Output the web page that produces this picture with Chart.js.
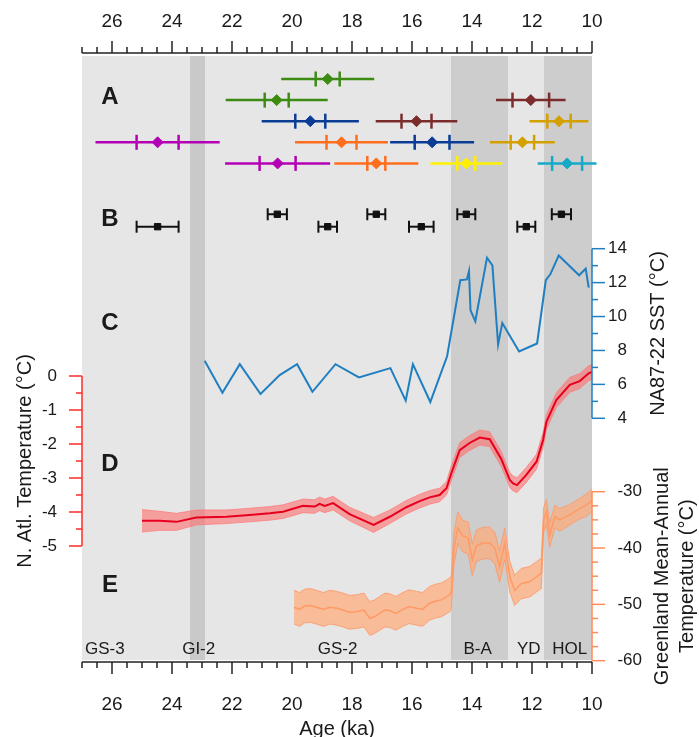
<!DOCTYPE html>
<html lang="en">
<head>
<meta charset="UTF-8">
<title>Deglacial temperature records</title>
<script src="https://cdn.jsdelivr.net/npm/chart.js@4/dist/chart.umd.min.js"></script>
<style>
  html, body { margin: 0; padding: 0; background: #fff; }
  #wrap { width: 699px; height: 737px; }
</style>
</head>
<body>
<div id="wrap"><canvas id="chart" width="699" height="737"></canvas></div>
<script>
// ---- values (age in ka) ----
const ageLabels = [26, 24, 22, 20, 18, 16, 14, 12, 10];

// climate intervals shaded behind the panels
const zoneNames    = ['GS-3', 'GI-2', 'GS-2', 'B-A', 'YD', 'HOL'];
const zoneStart    = [27, 23.4, 22.9, 14.7, 12.8, 11.6];
const zoneEnd      = [23.4, 22.9, 14.7, 12.8, 11.6, 10];
const zoneDark     = [false, true, false, true, false, true];
const zoneLabelAge = [26.24, 23.11, 18.48, 13.81, 12.11, 10.74];

// A: calibrated ages, centre with inner and outer ranges
const aRow    = [1, 2, 2, 3, 3, 3, 4, 4, 4, 4, 5, 5, 5, 5];
const aAge    = [18.81, 20.51, 12.04, 19.39, 15.85, 11.1, 24.48, 18.35, 15.33, 12.32, 20.48, 17.19, 14.19, 10.83];
const aInner  = [0.4, 0.4, 0.61, 0.5, 0.5, 0.39, 0.7, 0.5, 0.58, 0.39, 0.6, 0.3, 0.3, 0.5];
const aOuter  = [1.55, 1.7, 1.16, 1.62, 1.36, 0.98, 2.07, 1.55, 1.4, 1.08, 1.75, 1.4, 1.2, 0.98];
const aColor  = ['#3c8c14', '#3c8c14', '#7b2c2c', '#0a3c96', '#7b2c2c', '#d4a000', '#b400b4',
                 '#ff6e1e', '#0a3c96', '#d4a000', '#b400b4', '#ff6e1e', '#fff000', '#14aac8'];

// B: ages with error
const bRow = [7.41, 7.41, 7.41, 7.41, 8, 8, 8, 8];
const bAge = [20.49, 17.19, 14.19, 11.02, 24.48, 18.81, 15.69, 12.19];
const bErr = [0.32, 0.3, 0.3, 0.32, 0.7, 0.31, 0.41, 0.3];

// C: NA87-22 SST (degC)
const cAge = [22.91, 22.32, 21.74, 21.05, 20.41, 19.83, 19.32, 18.55, 17.77, 16.72, 16.21, 15.97, 15.39,
              14.83, 14.39, 14.17, 14.1, 14.05, 13.89, 13.5, 13.32, 13.13, 12.99, 12.43, 11.83, 11.54,
              11.39, 11.11, 10.43, 10.21, 10.11];
const cSST = [7.39, 5.51, 7.19, 5.43, 6.55, 7.19, 5.56, 7.19, 6.41, 6.96, 5.04, 7.19, 4.96,
              7.66, 12.14, 12.19, 12.68, 10.37, 9.72, 13.47, 13.02, 8.35, 9.62, 7.94, 8.41, 12.14,
              12.49, 13.6, 12.43, 12.82, 11.71];
const cTicks = [4, 6, 8, 10, 12, 14];

// D: N. Atlantic temperature anomaly with its band half-width
const dAge = [25.0, 24.41, 23.85, 23.19, 22.19, 21.41, 20.74, 20.3, 19.63, 19.24, 19.08, 18.91, 18.63,
              18.08, 17.28, 16.74, 16.19, 15.74, 15.41, 15.08, 14.85, 14.69, 14.41, 14.08, 13.74, 13.41,
              13.02, 12.74, 12.63, 12.5, 12.19, 11.85, 11.63, 11.52, 11.19, 10.74, 10.41, 10.11, 10.0];
const dTemp = [-4.26, -4.26, -4.29, -4.16, -4.14, -4.09, -4.04, -3.99, -3.82, -3.84, -3.76, -3.82, -3.74,
               -4.06, -4.38, -4.14, -3.86, -3.68, -3.57, -3.5, -3.3, -2.86, -2.18, -1.97, -1.81, -1.86,
               -2.45, -3.06, -3.16, -3.21, -2.91, -2.52, -1.88, -1.35, -0.71, -0.26, -0.15, 0.08, 0.12];
const dSpread = [0.33, 0.28, 0.25, 0.22, 0.2, 0.2, 0.2, 0.2, 0.2, 0.2, 0.2, 0.2, 0.2,
                 0.2, 0.22, 0.2, 0.2, 0.2, 0.2, 0.2, 0.2, 0.22, 0.22, 0.22, 0.22, 0.22,
                 0.22, 0.22, 0.22, 0.22, 0.22, 0.22, 0.22, 0.22, 0.22, 0.22, 0.22, 0.22, 0.22];
const dTicks = [0, -1, -2, -3, -4, -5];

// E: Greenland mean-annual temperature with its band half-width
const eAge = [19.93, 19.75, 19.58, 19.38, 19.19, 18.95, 18.74, 18.5, 18.3, 18.1, 17.85, 17.6, 17.41,
              17.25, 17.08, 16.9, 16.74, 16.55, 16.3, 16.1, 15.85, 15.65, 15.41, 15.2, 15.02, 14.74,
              14.69, 14.6, 14.47, 14.3, 14.13, 13.99, 13.85, 13.63, 13.41, 13.24, 13.08, 12.91, 12.74,
              12.58, 12.35, 12.08, 11.85, 11.69, 11.61, 11.52, 11.41, 11.24, 11.08, 10.74, 10.41, 10.19, 10.0];
const eTemp = [-50.5, -50.9, -50.3, -50.2, -50.5, -50.9, -50.5, -50.7, -51.0, -51.4, -51.3, -51.0, -52.5,
               -52.2, -51.6, -51.0, -51.1, -51.6, -50.9, -50.4, -50.7, -50.9, -49.8, -49.4, -49.2, -48.3,
               -47.8, -40.0, -36.4, -37.9, -38.2, -42.1, -39.6, -39.1, -39.1, -40.0, -43.3, -39.2, -45.1,
               -47.5, -46.3, -46.0, -45.1, -44.5, -35.0, -33.6, -37.7, -34.4, -35.0, -34.1, -33.0, -32.4, -31.5];
const eSpread = [3, 3, 3, 3, 3, 3, 3, 3, 3, 3, 3, 3, 3,
                 3, 3, 3, 3, 3, 3, 3, 3, 3, 3, 3, 3, 3,
                 2.9, 2.9, 2.8, 2.8, 2.8, 2.8, 2.8, 2.8, 2.8, 2.8, 2.8, 2.8, 2.7,
                 2.7, 2.7, 2.7, 2.7, 2.7, 2.2, 2.2, 2.2, 2.0, 2.0, 1.8, 1.8, 2.0, 2.0];
const eTicks = [-30, -40, -50, -60];

// ---- layout ----
const FONT = '"Liberation Sans", Arial, Helvetica, sans-serif';
const TOP = 56, BOTTOM = 660;
const BLUE = '#1f7fc0', RED = '#e6001e', AXRED = '#ff2a2a', ORANGE = '#ff8c5a';

// scale bounds so that value v1 sits at pixel p1 and v2 at p2
function rangeFor(v1, p1, v2, p2) {
    const k = (v2 - v1) / (p2 - p1);
    const atTop = v1 + (TOP - p1) * k, atBottom = v1 + (BOTTOM - p1) * k;
    return { type: 'linear', display: false, bounds: 'data',
             min: Math.min(atTop, atBottom), max: Math.max(atTop, atBottom), reverse: atTop < atBottom };
}

const pts = (xs, ys) => xs.map((x, i) => ({ x: x, y: ys[i] }));

const datasets = [];

// panel A
aAge.forEach((c, i) => {
    datasets.push({
        data: [c + aOuter[i], c + aInner[i], c, c - aInner[i], c - aOuter[i]].map(x => ({ x: x, y: aRow[i] })),
        yAxisID: 'yRow', borderColor: aColor[i], backgroundColor: aColor[i], borderWidth: 2.5,
        pointStyle: ['circle', 'line', 'rectRot', 'line', 'circle'],
        pointRadius: [0, 7.5, 5.5, 7.5, 0],
        pointRotation: [0, 90, 0, 90, 0],
        pointBorderWidth: [0, 2.5, 1, 2.5, 0],
        pointBorderColor: aColor[i], pointBackgroundColor: aColor[i],
        clip: false
    });
});

// panel B
bAge.forEach((c, i) => {
    datasets.push({
        data: [c + bErr[i], c, c - bErr[i]].map(x => ({ x: x, y: bRow[i] })),
        yAxisID: 'yRow', borderColor: '#111', backgroundColor: '#111', borderWidth: 2,
        pointStyle: ['line', 'rect', 'line'],
        pointRadius: [6, 4.5, 6],
        pointRotation: [90, 0, 90],
        pointBorderWidth: [2, 1, 2],
        pointBorderColor: '#111', pointBackgroundColor: '#111'
    });
});

// panel C
datasets.push({ data: pts(cAge, cSST), yAxisID: 'yC', borderColor: BLUE, borderWidth: 2, pointRadius: 0 });

// panel D: line first so it is painted over its band
datasets.push({ data: pts(dAge, dTemp), yAxisID: 'yD', borderColor: RED, borderWidth: 2, pointRadius: 0 });
datasets.push({ data: pts(dAge, dTemp.map((v, i) => v + dSpread[i])), yAxisID: 'yD',
                borderColor: 'rgba(255,120,120,0.7)', borderWidth: 1, pointRadius: 0 });
datasets.push({ data: pts(dAge, dTemp.map((v, i) => v - dSpread[i])), yAxisID: 'yD',
                borderColor: 'rgba(255,120,120,0.7)', borderWidth: 1, pointRadius: 0,
                fill: '-1', backgroundColor: 'rgba(255,110,110,0.6)' });

// panel E
datasets.push({ data: pts(eAge, eTemp), yAxisID: 'yE', borderColor: '#ff9a64', borderWidth: 1.5, pointRadius: 0 });
datasets.push({ data: pts(eAge, eTemp.map((v, i) => v + eSpread[i])), yAxisID: 'yE',
                borderColor: 'rgba(255,150,100,0.8)', borderWidth: 1, pointRadius: 0 });
datasets.push({ data: pts(eAge, eTemp.map((v, i) => v - eSpread[i])), yAxisID: 'yE',
                borderColor: 'rgba(255,150,100,0.8)', borderWidth: 1, pointRadius: 0,
                fill: '-1', backgroundColor: 'rgba(255,170,120,0.7)' });

// shaded intervals behind everything
const zonesPlugin = {
    id: 'zones',
    beforeDatasetsDraw(chart) {
        const { ctx, chartArea: ca, scales: { x } } = chart;
        ctx.save();
        zoneStart.forEach((s, i) => {
            const x1 = x.getPixelForValue(s), x2 = x.getPixelForValue(zoneEnd[i]);
            ctx.fillStyle = zoneDark[i] ? (zoneNames[i] === 'GI-2' ? '#c9c9c9' : '#cdcdcd') : '#e6e6e6';
            ctx.fillRect(x1, ca.top, x2 - x1, ca.bottom - ca.top);
        });
        ctx.restore();
    },
    afterDatasetsDraw(chart) {
        const { ctx, chartArea: ca, scales: { x } } = chart;
        ctx.save();
        ctx.fillStyle = '#1a1a1a';
        ctx.textAlign = 'center';
        ctx.textBaseline = 'middle';
        ctx.font = '17px ' + FONT;
        zoneNames.forEach((n, i) => ctx.fillText(n, x.getPixelForValue(zoneLabelAge[i]), ca.bottom - 11));
        ctx.font = 'bold 24px ' + FONT;
        [['A', 97], ['B', 219], ['C', 323], ['D', 464], ['E', 585]].forEach(([t, y]) => {
            ctx.fillText(t, ca.left + 28, y);
        });
        ctx.restore();
    }
};

function vAxis(ctx, scale, x, ticks, minorStep, side, color, labelX) {
    const lo = Math.min(...ticks), hi = Math.max(...ticks);
    ctx.strokeStyle = color;
    ctx.lineWidth = 1.5;
    ctx.beginPath();
    ctx.moveTo(x, scale.getPixelForValue(lo));
    ctx.lineTo(x, scale.getPixelForValue(hi));
    ctx.stroke();
    const n = Math.round((hi - lo) / minorStep);
    for (let i = 0; i <= n; i++) {
        const v = lo + i * minorStep;
        const major = ticks.some(t => Math.abs(t - v) < 1e-6);
        const y = scale.getPixelForValue(v);
        ctx.beginPath();
        ctx.moveTo(x, y);
        ctx.lineTo(x + side * (major ? 13 : 6), y);
        ctx.stroke();
    }
    ticks.forEach(t => ctx.fillText(String(t), labelX, scale.getPixelForValue(t)));
}

function rotatedText(ctx, lines, x, y, lineGap) {
    ctx.save();
    ctx.translate(x, y);
    ctx.rotate(-Math.PI / 2);
    lines.forEach((l, i) => ctx.fillText(l, 0, (i - (lines.length - 1) / 2) * lineGap));
    ctx.restore();
}

const axesPlugin = {
    id: 'axesDraw',
    afterDraw(chart) {
        const { ctx, chartArea: ca, scales: s } = chart;
        ctx.save();
        // age axes, top and bottom
        ctx.strokeStyle = '#222';
        ctx.lineWidth = 1.5;
        [[ca.top - 3, -1], [ca.bottom + 2, 1]].forEach(([y, dir]) => {
            ctx.beginPath();
            ctx.moveTo(s.x.getPixelForValue(27), y);
            ctx.lineTo(s.x.getPixelForValue(10), y);
            ctx.stroke();
            for (let v = 10; v <= 27.001; v += 0.5) {
                const px = s.x.getPixelForValue(v);
                ctx.beginPath();
                ctx.moveTo(px, y);
                ctx.lineTo(px, y + dir * (v % 2 === 0 ? 12 : 6));
                ctx.stroke();
            }
        });

        ctx.fillStyle = '#1a1a1a';
        ctx.textBaseline = 'middle';
        ctx.font = '17px ' + FONT;
        ctx.textAlign = 'right';
        vAxis(ctx, s.yD, ca.left, dTicks, 0.5, -1, AXRED, ca.left - 25);
        vAxis(ctx, s.yC, ca.right, cTicks, 1, 1, BLUE, ca.right + 35);
        vAxis(ctx, s.yE, ca.right, eTicks, 2.5, 1, ORANGE, ca.right + 50);

        ctx.textAlign = 'center';
        ctx.font = '20px ' + FONT;
        const midD = (s.yD.getPixelForValue(0) + s.yD.getPixelForValue(-5)) / 2;
        const midC = (s.yC.getPixelForValue(4) + s.yC.getPixelForValue(14)) / 2;
        const midE = (s.yE.getPixelForValue(-30) + s.yE.getPixelForValue(-60)) / 2;
        rotatedText(ctx, ['N. Atl. Temperature (\u00b0C)'], 25, midD, 0);
        rotatedText(ctx, ['NA87-22 SST (\u00b0C)'], ca.right + 66, midC, 0);
        rotatedText(ctx, ['Greenland Mean-Annual', 'Temperature (\u00b0C)'], ca.right + 83, midE, 25);
        ctx.restore();
    }
};

const ageAxis = (position, extra) => Object.assign({
    type: 'linear', position: position, reverse: true, min: 10, max: 27, bounds: 'data',
    grid: { display: false, drawTicks: false },
    border: { display: false },
    afterBuildTicks: sc => { sc.ticks = ageLabels.map(v => ({ value: v })); },
    ticks: { autoSkip: false, maxRotation: 0, color: '#1a1a1a', font: { family: FONT, size: 19 },
             callback: v => String(v) }
}, extra);

const xBottom = ageAxis('bottom', {
    title: { display: true, text: 'Age (ka)', color: '#1a1a1a', font: { family: FONT, size: 20 },
             padding: { top: 0, bottom: -4 } },
    afterFit: sc => { sc.height = 77; }
});
xBottom.ticks.padding = 33;
const xTop = ageAxis('top', { afterFit: sc => { sc.height = TOP; } });
xTop.ticks.padding = 23;

new Chart(document.getElementById('chart'), {
    type: 'line',
    data: { datasets: datasets },
    options: {
        responsive: false,
        maintainAspectRatio: false,
        animation: false,
        layout: { padding: { left: 82, right: 107, top: 0, bottom: 0 } },
        plugins: { legend: { display: false }, tooltip: { enabled: false } },
        elements: { line: { tension: 0 } },
        scales: {
            x: xBottom,
            x2: xTop,
            yRow: rangeFor(1, 79, 8, 226.7),
            yC: rangeFor(4, 418.3, 14, 248.7),
            yD: rangeFor(0, 376, -5, 546),
            yE: rangeFor(-30, 491.7, -60, 660.7)
        }
    },
    plugins: [zonesPlugin, axesPlugin]
});
</script>
</body>
</html>
